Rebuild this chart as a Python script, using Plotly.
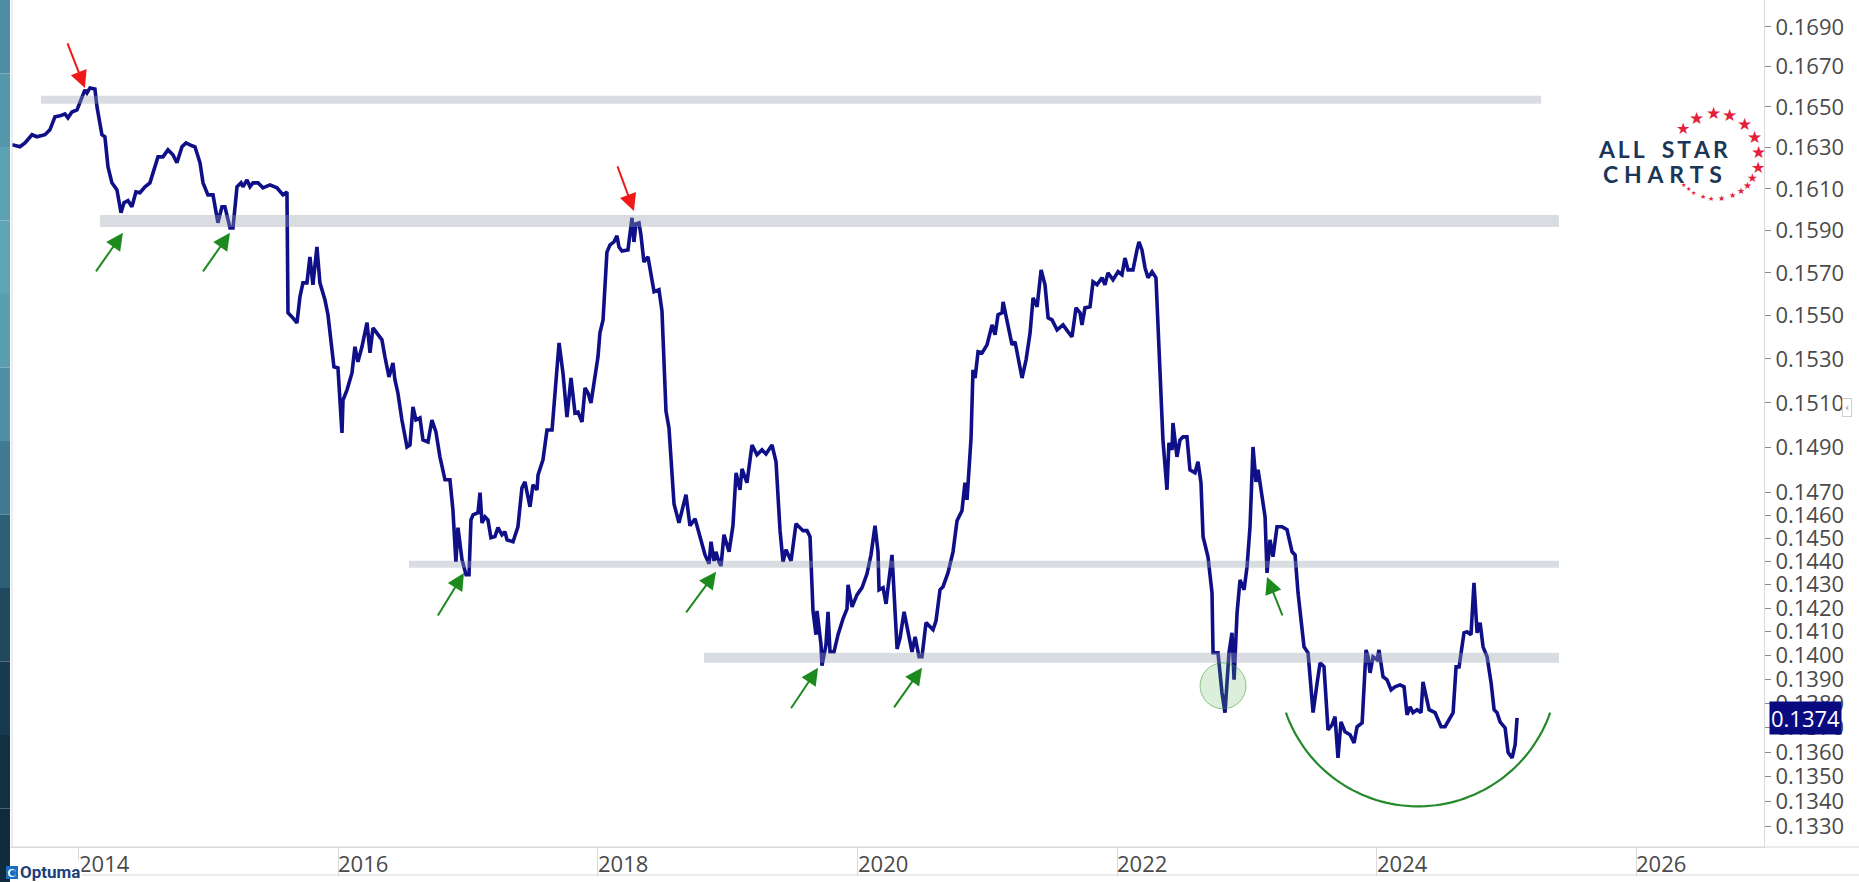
import numpy as np
import plotly.graph_objects as go

# ---------------- data (decimal year, CNY/USD) ----------------
dates_yr = [
    2013.484, 2013.545, 2013.584, 2013.638, 2013.676, 2013.738, 2013.776, 2013.815, 2013.854, 2013.892,
    2013.915, 2013.946, 2013.985, 2014.023, 2014.046, 2014.062, 2014.085, 2014.123, 2014.139, 2014.177,
    2014.200, 2014.224, 2014.254, 2014.293, 2014.324, 2014.347, 2014.378, 2014.408, 2014.439, 2014.470,
    2014.509, 2014.547, 2014.570, 2014.609, 2014.647, 2014.686, 2014.724, 2014.755, 2014.794, 2014.825,
    2014.871, 2014.894, 2014.933, 2014.956, 2014.994, 2015.033, 2015.071, 2015.102, 2015.125, 2015.164,
    2015.187, 2015.218, 2015.249, 2015.264, 2015.295, 2015.318, 2015.341, 2015.380, 2015.418, 2015.472,
    2015.526, 2015.572, 2015.603,
    2015.611, 2015.642, 2015.680, 2015.703, 2015.726, 2015.757, 2015.780, 2015.803, 2015.834, 2015.857,
    2015.896, 2015.919, 2015.950, 2015.965, 2015.996, 2016.027, 2016.035, 2016.066, 2016.104, 2016.127,
    2016.150, 2016.181, 2016.220, 2016.243, 2016.266, 2016.304, 2016.335, 2016.358, 2016.389, 2016.420,
    2016.435, 2016.458, 2016.489, 2016.528, 2016.551, 2016.574, 2016.597, 2016.628, 2016.651, 2016.690,
    2016.720, 2016.751, 2016.782, 2016.821, 2016.859, 2016.882, 2016.905, 2016.921, 2016.952, 2016.983,
    2017.006, 2017.021, 2017.037, 2017.075, 2017.091, 2017.106, 2017.129, 2017.152, 2017.175, 2017.206,
    2017.229, 2017.260, 2017.283, 2017.299, 2017.345, 2017.383, 2017.414, 2017.437, 2017.476, 2017.499,
    2017.530, 2017.538, 2017.576, 2017.607, 2017.646, 2017.669, 2017.700, 2017.730, 2017.761, 2017.792,
    2017.823, 2017.846, 2017.877, 2017.900, 2017.923, 2017.946, 2017.961, 2018.000, 2018.015, 2018.039,
    2018.069, 2018.093, 2018.123, 2018.146, 2018.162, 2018.185, 2018.231, 2018.247, 2018.262, 2018.277,
    2018.293, 2018.316, 2018.331, 2018.354, 2018.385, 2018.416, 2018.432, 2018.470, 2018.493, 2018.524,
    2018.547, 2018.586, 2018.624, 2018.678, 2018.709, 2018.748, 2018.786, 2018.825, 2018.856, 2018.871,
    2018.894, 2018.909, 2018.932, 2018.948, 2018.971, 2019.010, 2019.040, 2019.064, 2019.094, 2019.110,
    2019.148, 2019.187, 2019.225, 2019.264, 2019.295, 2019.341, 2019.372, 2019.403, 2019.426, 2019.449,
    2019.488, 2019.526, 2019.557, 2019.580, 2019.611, 2019.634, 2019.657, 2019.680, 2019.688, 2019.719,
    2019.726, 2019.757, 2019.773, 2019.788, 2019.819, 2019.850, 2019.888, 2019.919, 2019.927, 2019.958,
    2019.996, 2020.035, 2020.073, 2020.104, 2020.135, 2020.158, 2020.166, 2020.197, 2020.220, 2020.251,
    2020.266, 2020.305, 2020.328, 2020.359, 2020.390, 2020.420, 2020.444, 2020.474, 2020.497, 2020.528,
    2020.582, 2020.605, 2020.636, 2020.659, 2020.697, 2020.736, 2020.767, 2020.805, 2020.828, 2020.844,
    2020.875,
    2020.890, 2020.906, 2020.929, 2020.960, 2020.998, 2021.037, 2021.060, 2021.083, 2021.114, 2021.122,
    2021.152, 2021.191, 2021.214, 2021.237, 2021.268, 2021.299, 2021.330, 2021.353, 2021.384, 2021.415,
    2021.445, 2021.469, 2021.499, 2021.538, 2021.584, 2021.623, 2021.653, 2021.684, 2021.715, 2021.730,
    2021.753, 2021.792, 2021.815, 2021.846, 2021.884, 2021.907, 2021.930, 2021.969, 2022.008, 2022.038,
    2022.061, 2022.085, 2022.123, 2022.154, 2022.169, 2022.192, 2022.216, 2022.239, 2022.270, 2022.300,
    2022.331, 2022.354, 2022.385, 2022.400, 2022.424, 2022.431, 2022.462, 2022.485, 2022.508, 2022.539,
    2022.562,
    2022.601, 2022.624, 2022.647, 2022.663, 2022.701, 2022.732, 2022.740, 2022.778, 2022.809, 2022.832,
    2022.863, 2022.886, 2022.902, 2022.925, 2022.948, 2022.979, 2023.002, 2023.025, 2023.048, 2023.071,
    2023.087, 2023.118, 2023.141, 2023.156, 2023.179, 2023.202, 2023.233, 2023.272, 2023.310, 2023.349,
    2023.372, 2023.395, 2023.441, 2023.472, 2023.511, 2023.542, 2023.565, 2023.595, 2023.626, 2023.657,
    2023.680, 2023.703, 2023.726, 2023.757, 2023.796, 2023.827, 2023.850, 2023.889, 2023.919, 2023.935,
    2023.950, 2023.973, 2024.004, 2024.019, 2024.050, 2024.081, 2024.112, 2024.142, 2024.181, 2024.212,
    2024.235, 2024.258, 2024.281, 2024.312, 2024.343, 2024.358, 2024.381, 2024.405, 2024.451, 2024.497,
    2024.528, 2024.559, 2024.590, 2024.613, 2024.636, 2024.674, 2024.697, 2024.728, 2024.751, 2024.775,
    2024.798, 2024.821, 2024.852, 2024.883, 2024.906, 2024.929, 2024.952, 2024.991, 2025.014, 2025.045,
    2025.068, 2025.083,
]

cny_usd = [
    0.16314, 0.16304, 0.16323, 0.16363, 0.16353, 0.16363, 0.16387, 0.16451, 0.16456, 0.16465,
    0.16446, 0.16475, 0.16485, 0.16544, 0.16584, 0.16569, 0.16594, 0.16589, 0.16500, 0.16363,
    0.16353, 0.16206, 0.16129, 0.16095, 0.15985, 0.16033, 0.16043, 0.16014, 0.16085, 0.16081,
    0.16110, 0.16129, 0.16177, 0.16255, 0.16255, 0.16289, 0.16265, 0.16226, 0.16304, 0.16323,
    0.16309, 0.16304, 0.16226, 0.16129, 0.16071, 0.16071, 0.15937, 0.16013, 0.16013, 0.15913,
    0.15913, 0.16110, 0.16129, 0.16110, 0.16143, 0.16110, 0.16129, 0.16129, 0.16105, 0.16119,
    0.16105, 0.16071, 0.16085,
    0.15513, 0.15494, 0.15466, 0.15587, 0.15653, 0.15653, 0.15775, 0.15644, 0.15822, 0.15653,
    0.15573, 0.15504, 0.15328, 0.15264, 0.15259, 0.14965, 0.15113, 0.15159, 0.15236, 0.15356,
    0.15287, 0.15356, 0.15467, 0.15328, 0.15443, 0.15411, 0.15388, 0.15310, 0.15218, 0.15282,
    0.15205, 0.15145, 0.15023, 0.14902, 0.14911, 0.15082, 0.15023, 0.15032, 0.14933, 0.14924,
    0.15023, 0.14969, 0.14858, 0.14756, 0.14756, 0.14624, 0.14398, 0.14546, 0.14407, 0.14342,
    0.14342, 0.14580, 0.14602, 0.14611, 0.14699, 0.14567, 0.14593, 0.14580, 0.14502, 0.14507,
    0.14546, 0.14515, 0.14528, 0.14493, 0.14485, 0.14550, 0.14721, 0.14747, 0.14637, 0.14734,
    0.14712, 0.14778, 0.14845, 0.14978, 0.14978, 0.15145, 0.15374, 0.15236, 0.15036, 0.15213,
    0.15054, 0.15059, 0.15014, 0.15168, 0.15145, 0.15100, 0.15159, 0.15310, 0.15420, 0.15480,
    0.15798, 0.15832, 0.15846, 0.15875, 0.15822, 0.15803, 0.15808, 0.15903, 0.15961, 0.15846,
    0.15932, 0.15937, 0.15879, 0.15751, 0.15775, 0.15667, 0.15611, 0.15620, 0.15522, 0.15063,
    0.14987, 0.14650, 0.14567, 0.14690, 0.14554, 0.14585, 0.14502, 0.14428, 0.14389, 0.14485,
    0.14402, 0.14441, 0.14398, 0.14380, 0.14515, 0.14441, 0.14554, 0.14787, 0.14712, 0.14804,
    0.14743, 0.14911, 0.14867, 0.14889, 0.14871, 0.14911, 0.14836, 0.14533, 0.14398, 0.14450,
    0.14402, 0.14563, 0.14546, 0.14533, 0.14533, 0.14507, 0.14188, 0.14087, 0.14188, 0.14044,
    0.13957, 0.14044, 0.14184, 0.14015, 0.14015, 0.14087, 0.14154, 0.14196, 0.14299, 0.14205,
    0.14256, 0.14287, 0.14346, 0.14428, 0.14554, 0.14441, 0.14278, 0.14287, 0.14218, 0.14350,
    0.14428, 0.14027, 0.14074, 0.14184, 0.14087, 0.14015, 0.14078, 0.13994, 0.13994, 0.14138,
    0.14108, 0.14146, 0.14278, 0.14291, 0.14350, 0.14441, 0.14576, 0.14620, 0.14743, 0.14668,
    0.14942,
    0.15250, 0.15213, 0.15333, 0.15328, 0.15365, 0.15457, 0.15411, 0.15504, 0.15513, 0.15564,
    0.15480, 0.15365, 0.15379, 0.15310, 0.15213, 0.15296, 0.15420, 0.15583, 0.15541, 0.15714,
    0.15644, 0.15490, 0.15480, 0.15434, 0.15457, 0.15425, 0.15402, 0.15536, 0.15513, 0.15457,
    0.15536, 0.15541, 0.15658, 0.15644, 0.15677, 0.15644, 0.15700, 0.15667, 0.15705, 0.15691,
    0.15770, 0.15714, 0.15714, 0.15808, 0.15846, 0.15808, 0.15723, 0.15677, 0.15705, 0.15677,
    0.15205, 0.14933, 0.14712, 0.14920, 0.14889, 0.15009, 0.14858, 0.14933, 0.14947, 0.14947,
    0.14800,
    0.14787, 0.14836, 0.14743, 0.14507, 0.14420, 0.14265, 0.14011, 0.14011, 0.13844, 0.13762,
    0.14011, 0.14095, 0.13898, 0.14179, 0.14320, 0.14278, 0.14376, 0.14550, 0.14902, 0.14747,
    0.14800, 0.14681, 0.14593, 0.14350, 0.14493, 0.14420, 0.14550, 0.14550, 0.14537, 0.14441,
    0.14428, 0.14265, 0.14036, 0.14011, 0.13762, 0.13885, 0.13969, 0.13952, 0.13691, 0.13712,
    0.13745, 0.13577, 0.13724, 0.13683, 0.13671, 0.13638, 0.13704, 0.13720, 0.14023, 0.13994,
    0.13927, 0.13994, 0.13982, 0.14023, 0.13911, 0.13898, 0.13856, 0.13869, 0.13877, 0.13869,
    0.13753, 0.13786, 0.13762, 0.13774, 0.13762, 0.13889, 0.13827, 0.13774, 0.13762, 0.13704,
    0.13704, 0.13733, 0.13762, 0.13952, 0.13952, 0.14095, 0.14099, 0.14087, 0.14308, 0.14095,
    0.14138, 0.14036, 0.13994, 0.13885, 0.13774, 0.13762, 0.13724, 0.13699, 0.13598, 0.13577,
    0.13630, 0.13740,
]

y_tick_vals = [0.1690, 0.1670, 0.1650, 0.1630, 0.1610, 0.1590, 0.1570, 0.1550, 0.1530, 0.1510,
               0.1490, 0.1470, 0.1460, 0.1450, 0.1440, 0.1430, 0.1420, 0.1410, 0.1400, 0.1390,
               0.1380, 0.1370, 0.1360, 0.1350, 0.1340, 0.1330]
x_tick_years = [2014, 2016, 2018, 2020, 2022, 2024, 2026]
last_value = 0.1374

# horizontal support / resistance levels
level_values = [0.16535, 0.15946, 0.14387, 0.13990]
level_from = [2013.707, 2014.162, 2016.543, 2018.817]
level_to = [2025.268, 2025.406, 2025.406, 2025.406]

# annotated turning points
peak_dates = [2014.046, 2018.277]
peak_values = [0.16594, 0.15994]
trough_dates = [2014.339, 2015.164, 2016.967, 2018.910, 2019.696, 2020.497, 2023.156]
trough_values = [0.15889, 0.15889, 0.14350, 0.14355, 0.13948, 0.13948, 0.14333]
circle_date, circle_value = 2022.817, 0.13873
arc_date, arc_value = 2024.320, 0.13954

# ---------------- layout geometry ----------------
W, H = 1859, 882
ML, MR, MT, MB = 12, 95, 0, 35
PW, PH = W - ML - MR, H - MT - MB
X_RANGE = [2013.484, 2026.986]
Y_RANGE = [np.log10(0.13219), np.log10(0.17037)]

def pxx(px):  # pixel x -> paper
    return (px - ML) / PW

def pxy(py):  # pixel y (from top) -> paper
    return (H - MB - py) / PH

NAVY = '#0f0f88'
GRID = '#d9d9d9'
RED = '#f01818'
GREEN = '#1d8a1d'
TICKFONT = dict(family='Open Sans', size=22, color='#4a4a4a')

fig = go.Figure()
fig.add_trace(go.Scatter(x=dates_yr, y=cny_usd, mode='lines',
                         line=dict(color=NAVY, width=3.6), hoverinfo='skip', showlegend=False))
# invisible helper on linear log10 axis for decorations
fig.add_trace(go.Scatter(x=[dates_yr[0]], y=[np.log10(cny_usd[0])], yaxis='y2', mode='markers',
                         marker=dict(opacity=0), hoverinfo='skip', showlegend=False))

shapes = []
annotations = []

# left dark/teal strip
strip_cols = ['#4d8ea4', '#5497aa', '#5ba1b2', '#5fa5b4', '#5a9fb0', '#4f90a4', '#3f7a90',
              '#2d5f76', '#20485e', '#173a4e', '#123244', '#0f2b3c']
n = len(strip_cols)
for i, c in enumerate(strip_cols):
    y0 = H * i / n
    y1 = H * (i + 1) / n
    shapes.append(dict(type='rect', xref='paper', yref='paper', x0=pxx(0), x1=pxx(10),
                       y0=pxy(y1), y1=pxy(y0), fillcolor=c, line=dict(width=0), layer='above'))
# left border of plot
shapes.append(dict(type='line', xref='paper', yref='paper', x0=pxx(12), x1=pxx(12), y0=pxy(H - 35), y1=1,
                   line=dict(color=GRID, width=1)))
# bottom axis band lines (full width)
shapes.append(dict(type='line', xref='paper', yref='paper', x0=pxx(10), x1=pxx(W), y0=0, y1=0,
                   line=dict(color=GRID, width=1)))
shapes.append(dict(type='line', xref='paper', yref='paper', x0=pxx(10), x1=pxx(W), y0=pxy(875), y1=pxy(875),
                   line=dict(color=GRID, width=1)))

# support / resistance bands
level_widths = [8, 12, 7, 10]
for v, a, b, w in zip(level_values, level_from, level_to, level_widths):
    shapes.append(dict(type='line', xref='x', yref='y2', x0=a, x1=b, y0=np.log10(v), y1=np.log10(v),
                       line=dict(color='rgba(150,160,175,0.36)', width=w), layer='above'))

# green circle around 2022 low
shapes.append(dict(type='circle', xref='x', yref='y2', xsizemode='pixel', ysizemode='pixel',
                   xanchor=circle_date, yanchor=np.log10(circle_value), x0=-23, x1=23, y0=-23, y1=23,
                   fillcolor='rgba(90,180,90,0.22)', line=dict(color='rgba(60,150,60,0.55)', width=1),
                   layer='above'))

# green arc (rounding bottom)
theta = np.radians(np.linspace(-160.7, -19.3, 70))
R = 140
arc_path = 'M ' + ' L '.join(f'{R*np.cos(t):.1f},{R*np.sin(t):.1f}' for t in theta)
shapes.append(dict(type='path', xref='x', yref='y2', xsizemode='pixel', ysizemode='pixel',
                   xanchor=arc_date, yanchor=np.log10(arc_value), path=arc_path,
                   line=dict(color='#23892a', width=2.2), layer='above'))

# Optuma icon
shapes.append(dict(type='rect', xref='paper', yref='paper', x0=pxx(6), x1=pxx(18), y0=pxy(879), y1=pxy(866),
                   fillcolor='#1b6fc2', line=dict(width=0)))
shapes.append(dict(type='circle', xref='paper', yref='paper', x0=pxx(8), x1=pxx(16), y0=pxy(877), y1=pxy(869),
                   fillcolor='white', line=dict(width=0)))
shapes.append(dict(type='circle', xref='paper', yref='paper', x0=pxx(10), x1=pxx(16), y0=pxy(876), y1=pxy(870),
                   fillcolor='#1b6fc2', line=dict(width=0)))

# arrows
red_offsets = [(-18, -46), (-17, -46)]
green_offsets = [(-28, 40), (-28, 40), (-27, 44), (-31, 42), (-28, 42), (-29, 41), (16, 40)]
for t, v, (dx, dy) in zip(peak_dates, peak_values, red_offsets):
    annotations.append(dict(x=t, y=np.log10(v), xref='x', yref='y2', ax=dx, ay=dy, text='',
                            showarrow=True, arrowhead=2, arrowsize=1.7, arrowwidth=2, arrowcolor=RED))
for t, v, (dx, dy) in zip(trough_dates, trough_values, green_offsets):
    annotations.append(dict(x=t, y=np.log10(v), xref='x', yref='y2', ax=dx, ay=dy, text='',
                            showarrow=True, arrowhead=2, arrowsize=1.7, arrowwidth=2, arrowcolor=GREEN))

# x-axis year labels (left aligned after separators)
for yr in x_tick_years:
    annotations.append(dict(x=yr, y=pxy(863), xref='x', yref='paper', text=str(yr), showarrow=False,
                            xanchor='left', yanchor='middle', xshift=-2, font=TICKFONT))

# Optuma text (covers the start of the first year label, as in the original)
annotations.append(dict(x=pxx(18), y=pxy(872), xref='paper', yref='paper', text='<b>Optuma</b>',
                        showarrow=False, xanchor='left', yanchor='middle', bgcolor='white', borderpad=1,
                        font=dict(family='Roboto', size=17, color='#1d3f7a')))

# last value label
annotations.append(dict(x=pxx(1769), y=np.log10(last_value), xref='paper', yref='y2',
                        text=f'{last_value:.4f}', showarrow=False, xanchor='left', yanchor='middle',
                        bgcolor='#0a0a80', borderpad=1,
                        font=dict(family='Open Sans', size=22, color='white')))

# small collapse button on the right
annotations.append(dict(x=pxx(1852), y=pxy(407), xref='paper', yref='paper', text='‹', showarrow=False,
                        bordercolor='#cfcfcf', borderwidth=1, borderpad=2, bgcolor='white',
                        font=dict(family='DejaVu Sans', size=11, color='#888')))

# ALL STAR CHARTS logo
thin = '\u2009'
annotations.append(dict(x=pxx(1663), y=pxy(149), xref='paper', yref='paper',
                        text='<b>' + thin.join('ALL') + '\u2003' + thin.join('STAR') + '</b>',
                        showarrow=False, xanchor='center', yanchor='middle',
                        font=dict(family='Lato', size=23, color='#1b3657')))
annotations.append(dict(x=pxx(1662), y=pxy(174), xref='paper', yref='paper',
                        text='<b>' + (thin * 2).join('CHARTS') + '</b>',
                        showarrow=False, xanchor='center', yanchor='middle',
                        font=dict(family='Lato', size=23, color='#1b3657')))
star_angles = [140, 117, 94, 71, 49, 26, 5, -15, -31, -43, -55, -68, -83, -97, -108, -121, -130, -139]
star_sizes = [16, 17, 17, 17, 17, 17, 17, 16, 12, 10, 9, 8, 8, 7, 7, 6, 6, 6]
cx, cy, cr = 1716, 156, 43
for a, s in zip(star_angles, star_sizes):
    sx = cx + cr * np.cos(np.radians(a))
    sy = cy - cr * np.sin(np.radians(a))
    annotations.append(dict(x=pxx(sx), y=pxy(sy), xref='paper', yref='paper', text='★', showarrow=False,
                            xanchor='center', yanchor='middle', borderpad=0,
                            font=dict(family='DejaVu Sans', size=s, color='#e4203a')))

fig.update_layout(
    width=W, height=H,
    margin=dict(l=ML, r=MR, t=MT, b=MB, pad=0, autoexpand=False),
    paper_bgcolor='white', plot_bgcolor='white',
    showlegend=False,
    xaxis=dict(range=X_RANGE, showgrid=False, zeroline=False, showticklabels=False,
               tickmode='array', tickvals=x_tick_years, ticks='outside', ticklen=28,
               tickcolor=GRID, tickwidth=1, showline=True, linecolor=GRID, linewidth=1, fixedrange=True),
    yaxis=dict(type='log', range=Y_RANGE, side='right', showgrid=False, zeroline=False,
               tickmode='array', tickvals=y_tick_vals, ticktext=[f'{v:.4f}' for v in y_tick_vals],
               ticks='outside', ticklen=6, tickcolor='#8a8a8a', tickwidth=1,
               showline=True, linecolor=GRID, linewidth=1, tickfont=TICKFONT),
    yaxis2=dict(range=Y_RANGE, overlaying='y', visible=False, showgrid=False, zeroline=False),
    shapes=shapes,
    annotations=annotations,
)

fig.write_html('out.html', config={'displayModeBar': False},
               post_script="document.body.style.margin='0';document.body.style.overflow='hidden';")
